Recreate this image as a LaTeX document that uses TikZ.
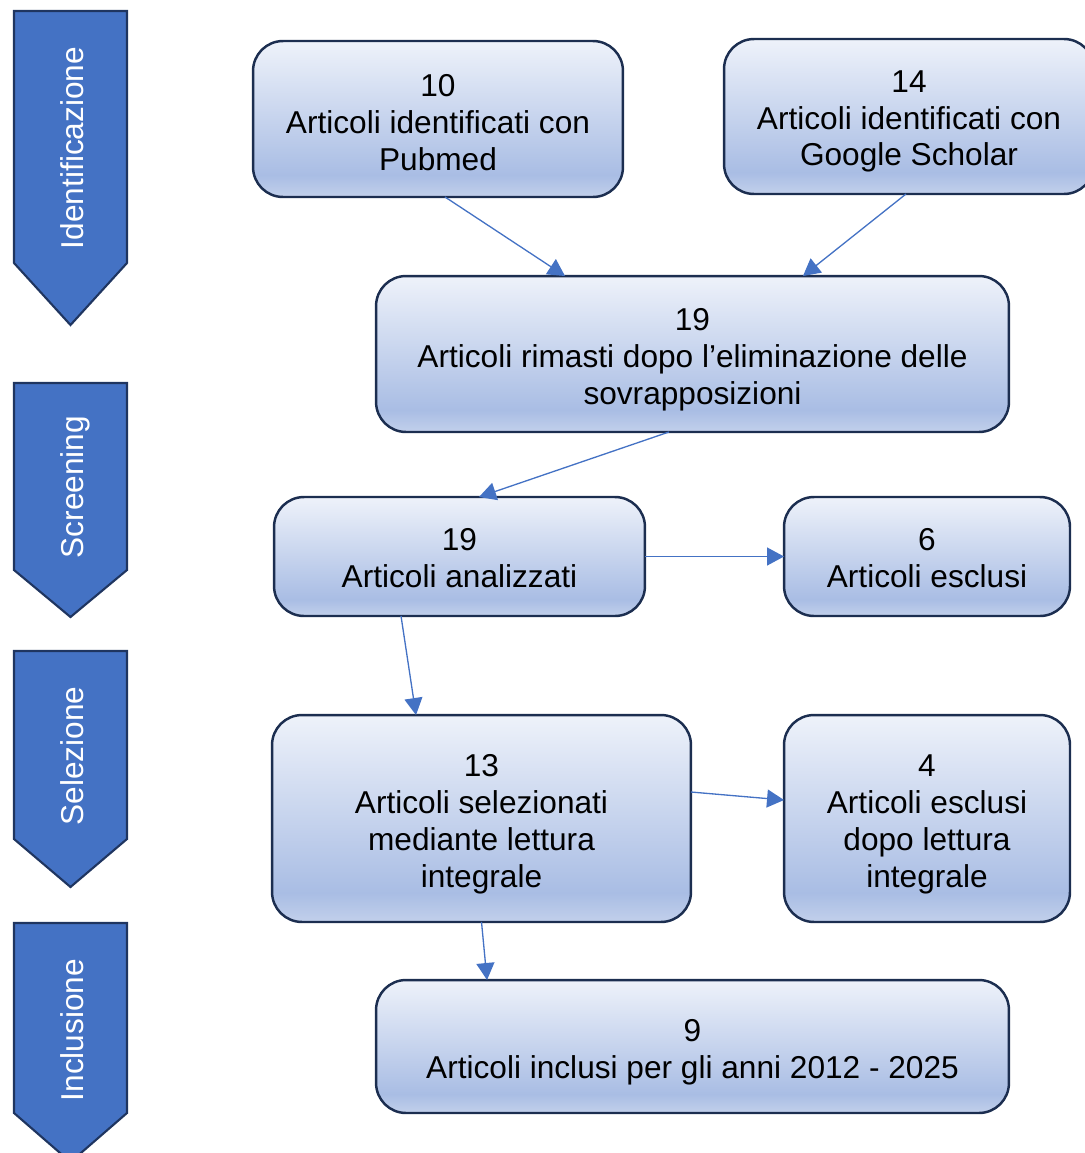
\documentclass[tikz,border=0pt]{standalone}
\usepackage{fontspec}
\setmainfont{Liberation Sans}
\usetikzlibrary{arrows.meta}
\definecolor{boxtop}{HTML}{EEF2FA}
\definecolor{boxdark}{HTML}{A9BDE4}
\definecolor{boxbot}{HTML}{C2D0EB}
\definecolor{boxline}{HTML}{1C2E50}
\definecolor{chevfill}{HTML}{4472C4}
\definecolor{chevline}{HTML}{1F3560}
\definecolor{arrowc}{HTML}{4472C4}
\pgfdeclareverticalshading{boxshade}{100bp}{color(0bp)=(boxbot); color(25bp)=(boxbot); color(32bp)=(boxdark); color(75bp)=(boxtop); color(100bp)=(boxtop)}
\tikzset{
  flowbox/.style={draw=boxline, line width=1.4pt, rounded corners=0.6cm, shading=boxshade,
    inner sep=0pt, outer sep=0pt},
  boxtext/.style={align=center, inner sep=0pt, font=\fontsize{18}{21}\selectfont, text=black},
  chev/.style={fill=chevfill, draw=chevline, line width=1.2pt, line join=miter},
  chevtext/.style={rotate=90, anchor=base, text=white, font=\fontsize{18}{21}\selectfont, inner sep=0pt},
  conn/.style={draw=arrowc, line width=0.75pt, -{Triangle[length=0.34cm,width=0.36cm]}}
}
\begin{document}
\begin{tikzpicture}[x=0.02cm, y=-0.02cm]
\useasboundingbox (0,0) rectangle (1085,1153);
% stage chevrons
\draw[chev] (14,11) -- (127,11) -- (127,263) -- (70.5,325) -- (14,263) -- cycle;
\draw[chev] (14,383) -- (127,383) -- (127,570) -- (70.5,617) -- (14,570) -- cycle;
\draw[chev] (14,651) -- (127,651) -- (127,839) -- (70.5,887) -- (14,839) -- cycle;
\draw[chev] (14,923) -- (127,923) -- (127,1113) -- (70.5,1162) -- (14,1113) -- cycle;
\node[chevtext] (tid) at (83,148) {Identificazione};
\node[chevtext] (tsc) at (83,487) {Screening};
\node[chevtext] (tse) at (83,756) {Selezione};
\node[chevtext] (tin) at (83,1030) {Inclusione};
% boxes
\node[flowbox, minimum width=7.4cm, minimum height=3.12cm] (pub) at (438,119) {};
\node[flowbox, minimum width=7.4cm, minimum height=3.1cm] (goo) at (909,116.5) {};
\node[flowbox, minimum width=12.66cm, minimum height=3.12cm] (rim) at (692.5,354) {};
\node[flowbox, minimum width=7.42cm, minimum height=2.38cm] (ana) at (459.5,556.5) {};
\node[flowbox, minimum width=5.72cm, minimum height=2.38cm] (esc1) at (927,556.5) {};
\node[flowbox, minimum width=8.38cm, minimum height=4.14cm] (sel) at (481.5,818.5) {};
\node[flowbox, minimum width=5.72cm, minimum height=4.14cm] (esc2) at (927,818.5) {};
\node[flowbox, minimum width=12.66cm, minimum height=2.66cm] (inc) at (692.5,1046.5) {};
% box texts
\node[boxtext] (pubT) at ([yshift=-0.07cm]pub.center) {10\\Articoli identificati con\\Pubmed};
\node[boxtext] (gooT) at ([yshift=-0.1cm]goo.center) {14\\Articoli identificati con\\Google Scholar};
\node[boxtext] (rimT) at ([yshift=-0.11cm]rim.center) {19\\Articoli rimasti dopo l’eliminazione delle\\sovrapposizioni};
\node[boxtext] (anaT) at ([yshift=-0.04cm]ana.center) {19\\Articoli analizzati};
\node[boxtext] (esc1T) at ([yshift=-0.04cm]esc1.center) {6\\Articoli esclusi};
\node[boxtext] (selT) at ([yshift=-0.12cm]sel.center) {13\\Articoli selezionati\\mediante lettura\\integrale};
\node[boxtext] (esc2T) at ([yshift=-0.12cm]esc2.center) {4\\Articoli esclusi\\dopo lettura\\integrale};
\node[boxtext] (incT) at ([yshift=-0.12cm]inc.center) {9\\Articoli inclusi per gli anni 2012 - 2025};
% connectors
\draw[conn] ([xshift=0.14cm]pub.south) -- ([xshift=-2.55cm]rim.north);
\draw[conn] ([xshift=-0.06cm]goo.south) -- ([xshift=2.21cm]rim.north);
\draw[conn] ([xshift=-0.47cm]rim.south) -- ([xshift=0.39cm]ana.north);
\draw[conn] (ana.east) -- (esc1.west);
\draw[conn] ([xshift=-1.17cm]ana.south) -- ([xshift=-1.31cm]sel.north);
\draw[conn] ([yshift=0.53cm]sel.east) -- ([yshift=0.37cm]esc2.west);
\draw[conn] (sel.south) -- ([xshift=-4.11cm]inc.north);
\end{tikzpicture}
\end{document}
